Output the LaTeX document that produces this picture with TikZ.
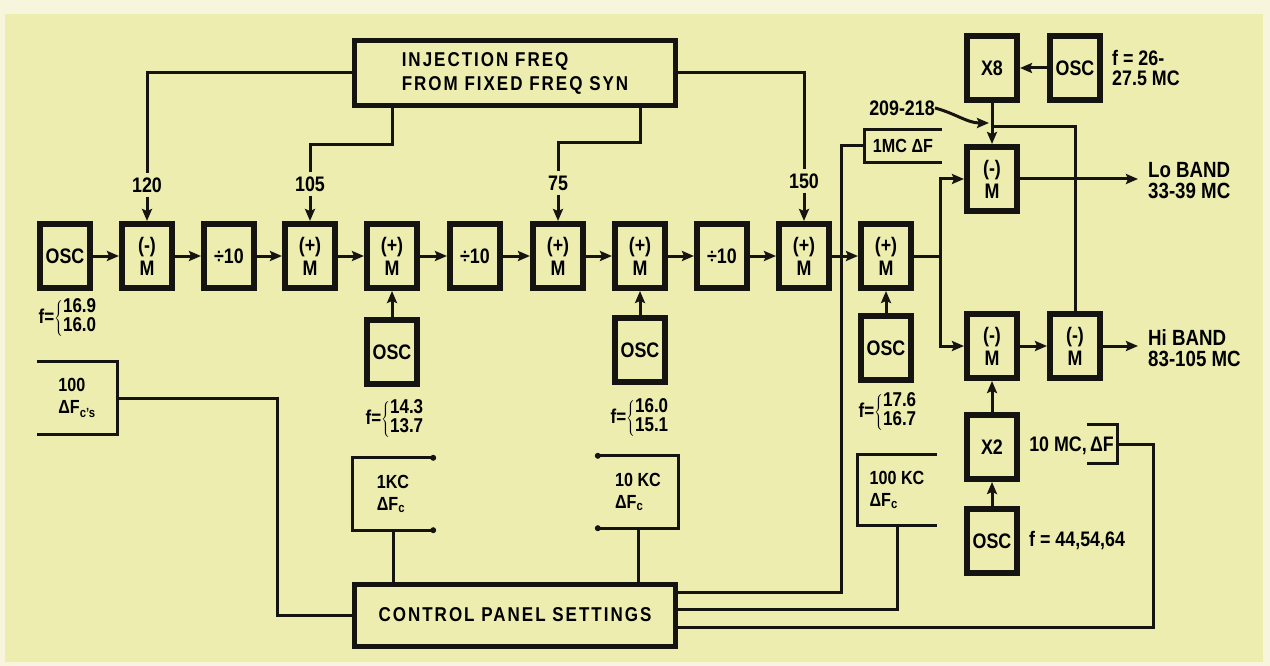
\documentclass[tikz,border=0pt]{standalone}
\usepackage{fontspec}
\setmainfont{Liberation Sans}[FakeStretch=0.85]
\usetikzlibrary{arrows.meta}
\definecolor{PaperYellow}{RGB}{237,237,176}
\definecolor{PaperEdge}{RGB}{247,245,220}
\definecolor{InkBlack}{RGB}{22,20,16}

% f = { a / b } frequency pairs under the oscillators
\newcommand{\fpair}[2]{f=$\left\{\begin{tabular}{@{}l@{}}#1\\#2\end{tabular}\right.$}

\tikzset{
  blockbox/.style={draw=InkBlack, line width=6pt, minimum width=50pt,
    minimum height=64pt, inner sep=0pt, align=center,
    font=\bfseries\fontsize{21}{23}\selectfont},
  panelbox/.style={draw=InkBlack, line width=5pt, inner sep=0pt, align=left,
    font=\bfseries\addfontfeature{LetterSpace=10}\fontsize{20}{24}\selectfont},
  switchbox/.style={inner sep=0pt, align=left, minimum width=80pt,
    minimum height=72pt, font=\bfseries\fontsize{19}{22}\selectfont},
  wire/.style={draw=InkBlack, line width=3pt},
  feed/.style={wire, -{Stealth[length=12pt,width=10pt,inset=2pt]}},
  freqlabel/.style={inner sep=4pt, font=\bfseries\fontsize{21}{22}\selectfont},
  notelabel/.style={inner sep=0pt, align=left, font=\bfseries\fontsize{20}{19}\selectfont},
}

\begin{document}
\begin{tikzpicture}[x=1pt,y=-1pt]
    % Paper
    \useasboundingbox (0,0) rectangle (1270,666);
    \fill[PaperEdge] (0,0) rectangle (1270,666);
    \fill[PaperYellow] (5,14) rectangle (1263,662);

    % Main signal row
    \foreach \name/\xpos/\txt in {osc1/65/OSC, m1/147/{(-)\\M}, d1/229/{÷10},
        m2/310/{(+)\\M}, m3/392/{(+)\\M}, d2/475/{÷10}, m4/558/{(+)\\M},
        m5/640/{(+)\\M}, d3/722/{÷10}, m6/804/{(+)\\M}, m7/886/{(+)\\M}}
        \node[blockbox] (\name) at (\xpos,256) {\txt};
    \foreach \a/\b in {osc1/m1, m1/d1, d1/m2, m2/m3, m3/d2, d2/m4, m4/m5,
        m5/d3, d3/m6, m6/m7}
        \draw[feed] (\a) -- (\b);

    % Oscillators feeding the (+) mixers from below
    \node[blockbox] (osc2) at (392,352) {OSC};
    \node[blockbox] (osc3) at (640,350) {OSC};
    \node[blockbox] (osc4) at (886,348) {OSC};
    \foreach \a/\b in {osc2/m3, osc3/m5, osc4/m7}
        \draw[feed] (\a) -- (\b);

    \node[notelabel] (f1) at (68,318) {\fpair{16.9}{16.0}};
    \node[notelabel] (f2) at (395,419) {\fpair{14.3}{13.7}};
    \node[notelabel] (f3) at (640,418) {\fpair{16.0}{15.1}};
    \node[notelabel] (f4) at (888,412) {\fpair{17.6}{16.7}};

    % Injection frequencies
    \node[panelbox, minimum width=321pt, minimum height=65pt] (inj) at (515,73)
        {INJECTION FREQ\\FROM FIXED FREQ SYN};
    \node[freqlabel] (l120) at (147,185) {120};
    \node[freqlabel] (l105) at (310,184) {105};
    \node[freqlabel] (l75) at (558,183) {75};
    \node[freqlabel] (l150) at (804,181) {150};
    \draw[wire] (inj.west) -| (l120.north);
    \draw[wire] (inj.south -| m3) -- ++(0,37) -| (l105.north);
    \draw[wire] (inj.south -| m5) -- ++(0,35) -| (l75.north);
    \draw[wire] (inj.east) -| (l150.north);
    \foreach \l/\m in {l120/m1, l105/m2, l75/m4, l150/m6}
        \draw[feed] (\l) -- (\m);

    % Output section
    \node[blockbox] (x8) at (992,68) {X8};
    \node[blockbox] (osc5) at (1075,68) {OSC};
    \node[blockbox] (mlo) at (992,179) {(-)\\M};
    \node[blockbox] (mhi1) at (992,346) {(-)\\M};
    \node[blockbox] (mhi2) at (1075,346) {(-)\\M};
    \node[blockbox] (x2) at (992,447) {X2};
    \node[blockbox] (osc6) at (992,541) {OSC};
    \draw[feed] (osc5) -- (x8);
    \draw[feed] (x8) -- (mlo);
    \draw[feed] (osc6) -- (x2);
    \draw[feed] (x2) -- (mhi1);
    \draw[feed] (mhi1) -- (mhi2);

    \node[notelabel, anchor=west, font=\bfseries\fontsize{21}{20}\selectfont] (f5)
        at (1112,68) {f = 26-\\27.5 MC};
    \node[notelabel, anchor=west, font=\bfseries\fontsize{21}{20}\selectfont] (f6)
        at (1029,541) {f = 44,54,64};

    % 209-218 tap to both (-) mixers
    \coordinate (jn) at (992,127);
    \coordinate (tap) at (989,123);
    \draw[wire] (jn) -| (mhi2.north);
    \node[notelabel, font=\bfseries\fontsize{21}{20}\selectfont] (l209) at (902,108) {209-218};
    \draw[feed] (l209.east) to[out=-15,in=180] (tap);

    % Split of the last (+) mixer
    \coordinate (split) at (940,256);
    \draw[wire] (m7) -- (split);
    \draw[feed] (split) |- (mlo);
    \draw[feed] (split) |- (mhi1);

    \node[notelabel, anchor=west, font=\bfseries\fontsize{22}{21}\selectfont] (lob)
        at (1148,181) {Lo BAND\\33-39 MC};
    \node[notelabel, anchor=west, font=\bfseries\fontsize{22}{21}\selectfont] (hib)
        at (1148,348) {Hi BAND\\83-105 MC};
    \draw[feed, shorten >=10pt] (mlo) -- (lob.west |- mlo);
    \draw[feed, shorten >=10pt] (mhi2) -- (hib.west |- mhi2);

    % Control panel and its switch settings
    \node[panelbox, minimum width=321pt, minimum height=62pt] (cp) at (515,615)
        {CONTROL PANEL SETTINGS};
    \node[switchbox] (hdf) at (77,398) {100\\ΔF\textsubscript{c's}};
    \node[switchbox] (okc) at (393,494) {1KC\\ΔF\textsubscript{c}};
    \node[switchbox] (tkc) at (638,492) {10 KC\\ΔF\textsubscript{c}};
    \node[switchbox, minimum width=79pt, minimum height=70pt] (hkc) at (897,490)
        {100 KC\\ΔF\textsubscript{c}};
    \node[switchbox, minimum width=77pt, minimum height=32pt, align=center] (onemc)
        at (903,146) {1MC ΔF};
    \node[switchbox, minimum width=30pt, minimum height=38pt,
        font=\bfseries\fontsize{21}{20}\selectfont] (tmcbox) at (1102,444) {ΔF};
    \node[notelabel, anchor=east, font=\bfseries\fontsize{21}{20}\selectfont] (tmc)
        at (1087,446) {10 MC,};

    % open-sided switch brackets
    \foreach \b in {okc, hkc, onemc}
        \draw[wire] (\b.north east) -- (\b.north west) -- (\b.south west) -- (\b.south east);
    \foreach \b in {hdf, tkc, tmcbox}
        \draw[wire] (\b.north west) -- (\b.north east) -- (\b.south east) -- (\b.south west);
    \foreach \p in {okc.north east, okc.south east, tkc.north west, tkc.south west}
        \fill[InkBlack] (\p) circle (3pt);

    \path (cp.east) ++(0,-23) coordinate (cpA);
    \path (cp.east) ++(0,-6) coordinate (cpB);
    \path (cp.east) ++(0,12) coordinate (cpC);
    \draw[wire] (hdf.east) -- ++(160,0) |- (cp.west);
    \draw[wire] (okc.south) -- (okc.south |- cp.north);
    \draw[wire] (tkc.south) -- (tkc.south |- cp.north);
    \draw[wire] (onemc.west) -- ++(-23,0) |- (cpA);
    \draw[wire] (hkc.south) |- (cpB);
    \draw[wire] (tmcbox.east) -- ++(36,0) |- (cpC);
\end{tikzpicture}
\end{document}
